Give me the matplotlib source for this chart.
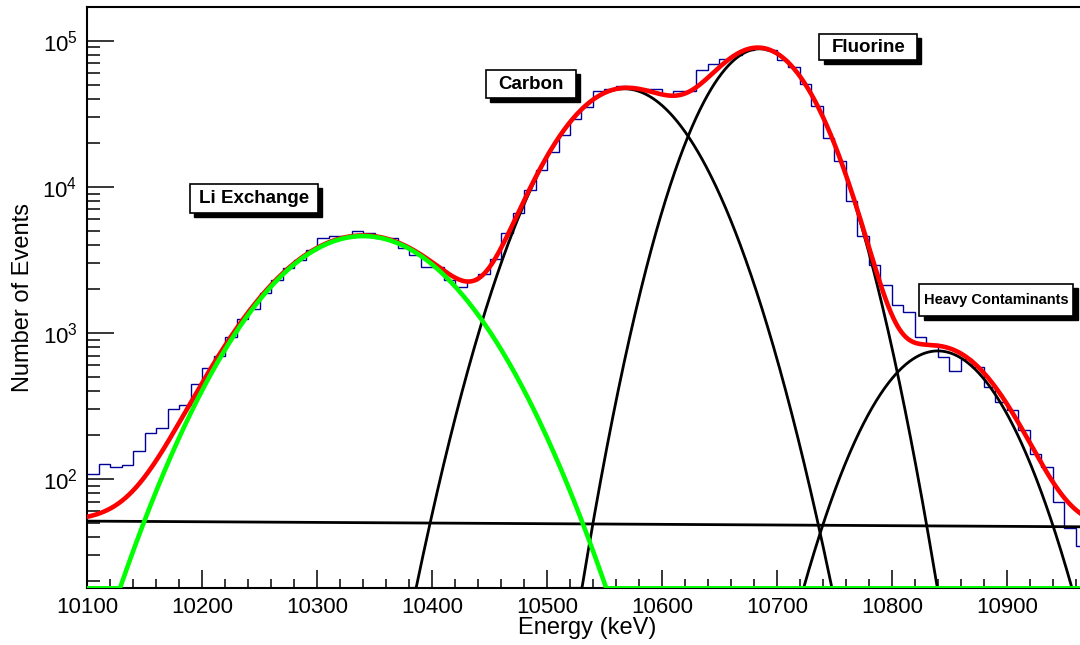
import numpy as np
import matplotlib
matplotlib.use("Agg")
import matplotlib.pyplot as plt
from matplotlib.patches import Rectangle
from matplotlib import transforms
from matplotlib.ticker import FixedLocator, LogLocator, MultipleLocator, NullFormatter

plt.rcParams["font.family"] = ["Liberation Sans", "DejaVu Sans"]

# histogram: 10 keV bins starting at 10100 keV
BIN_LOW = 10100
BIN_WIDTH = 10
counts = [
    108, 127, 121, 125, 156, 207, 223, 301, 322, 448,
    575, 695, 940, 1250, 1460, 1880, 2310, 2780, 3160, 3700,
    4460, 4600, 4600, 4970, 4810, 4460, 4460, 3790, 3415, 2840,
    2840, 2310, 2070, 2300, 2540, 3210, 4860, 6670, 9440, 13070,
    17450, 22700, 29100, 35200, 45000, 46900, 48700, 47600, 46900, 46700,
    42700, 45500, 45500, 63000, 69200, 75300, 80100, 86700, 90000, 86700,
    74100, 66100, 50500, 35500, 21600, 15070, 8050, 4610, 2920, 2130,
    1556, 1387, 935, 841, 689, 552, 664, 582, 425, 335,
    297, 217, 148, 121, 70, 46, 35,
]

# fitted components: amplitude, mean (keV), sigma (keV)
li_params = [4600, 10340, 63.5]
peak_names = ["Carbon", "Fluorine", "Heavy"]
peak_amp = [46900, 88000, 753]
peak_mean = [10567, 10685, 10840]
peak_sigma = [45.6, 37.5, 42.7]
peak_start = [10380, 10520, 10720]
# linear background: value at 10100 keV and slope per keV
bkg_params = [51.5, -0.0051]

# label boxes (x0, x1, y0, y1 in data units)
labels = ["Li Exchange", "Carbon", "Fluorine", "Heavy Contaminants"]
label_boxes = [
    (10189, 10301, 6620, 10450),
    (10447, 10525, 40500, 63000),
    (10737, 10822, 73800, 111200),
    (10824, 10958, 1305, 2160),
]
label_sizes = [13.5, 13.5, 13.5, 10.5]

XMIN, XMAX = 10100, 11000
YMIN, YMAX = 17.86, 170100


def gauss(x, amp, mean, sigma):
    return amp * np.exp(-0.5 * ((x - mean) / sigma) ** 2)


def main() -> None:
    fig = plt.figure(figsize=(10.8, 6.45), dpi=100)
    ax = fig.add_axes([0.0808, 0.0879, 0.9578, 0.9012])
    ax.set_yscale("log")
    ax.set_xlim(XMIN, XMAX)
    ax.set_ylim(YMIN, YMAX)

    edges = BIN_LOW + BIN_WIDTH * np.arange(len(counts) + 1)
    ax.stairs(counts, edges, baseline=None, color="#000099", lw=1.0, zorder=2)

    x = np.linspace(XMIN, XMAX, 1500)
    bkg = bkg_params[0] + bkg_params[1] * (x - XMIN)
    li = gauss(x, *li_params)
    total = bkg + li
    for amp, mean, sig, start in zip(peak_amp, peak_mean, peak_sigma, peak_start):
        comp = gauss(x, amp, mean, sig)
        total = total + comp
        sel = x >= start
        ax.plot(x[sel], np.clip(comp[sel], YMIN, None), color="black", lw=2.0, zorder=3)

    ax.plot(x, bkg, color="black", lw=2.0, zorder=3)
    ax.plot(x, np.clip(total, YMIN, None), color="#ff0000", lw=3.3, zorder=4)
    ax.plot(x, np.clip(li, YMIN, None), color="#00ff00", lw=3.3, zorder=5)

    # ROOT-like axes: inward ticks, only bottom and left
    ax.xaxis.set_major_locator(FixedLocator(np.arange(10100, 10901, 100)))
    ax.xaxis.set_minor_locator(MultipleLocator(20))
    ax.yaxis.set_major_locator(LogLocator(base=10, numticks=10))
    ax.yaxis.set_minor_locator(LogLocator(base=10, subs=np.arange(2, 10), numticks=20))
    ax.yaxis.set_minor_formatter(NullFormatter())
    ax.tick_params(axis="both", which="both", direction="in", width=1.1,
                   top=False, right=False, labelsize=16)
    ax.tick_params(axis="x", which="major", length=13, pad=6)
    ax.tick_params(axis="x", which="minor", length=6.5)
    ax.tick_params(axis="y", which="major", length=19.5, pad=7)
    ax.tick_params(axis="y", which="minor", length=9.5)
    for side in ["left", "bottom", "top"]:
        ax.spines[side].set_linewidth(1.5)
    ax.spines["right"].set_visible(False)

    # labelled boxes with drop shadow
    shadow_tf = transforms.offset_copy(ax.transData, fig=fig, x=3, y=-3, units="points")
    for text, (x0, x1, y0, y1), size in zip(labels, label_boxes, label_sizes):
        ax.add_patch(Rectangle((x0, y0), x1 - x0, y1 - y0, transform=shadow_tf,
                               facecolor="black", edgecolor="black", lw=1, zorder=6))
        ax.add_patch(Rectangle((x0, y0), x1 - x0, y1 - y0, facecolor="white",
                               edgecolor="black", lw=1.2, zorder=7))
        ax.text((x0 + x1) / 2, np.sqrt(y0 * y1), text, ha="center", va="center",
                fontsize=size, fontweight="bold", zorder=8)

    fig.text(0.5435, 0.027, "Energy (keV)", ha="center", va="center", fontsize=17)
    fig.text(0.0213, 0.538, "Number of Events", ha="center", va="center",
             rotation=90, fontsize=17)

    fig.savefig("out.png", dpi=100)
    plt.close(fig)


if __name__ == "__main__":
    main()
